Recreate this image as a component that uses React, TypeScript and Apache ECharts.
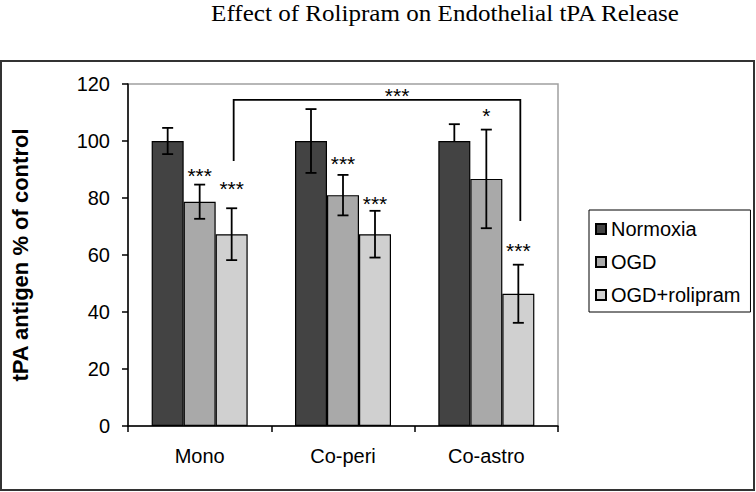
import React, { useEffect, useRef } from "react";
import * as echarts from "echarts";

const titleText = "Effect of Rolipram on Endothelial tPA Release";
const yAxisTitle = "tPA antigen % of control";
const categories = ["Mono", "Co-peri", "Co-astro"];
const seriesNames = ["Normoxia", "OGD", "OGD+rolipram"];
const normoxia = [100, 100, 100];
const ogd = [78.7, 81.0, 86.7];
const ogdRolipram = [67.3, 67.3, 46.4];
const normoxiaErrUp = [4.6, 11.2, 5.9];
const normoxiaErrDown = [4.6, 11.2, 0];
const ogdErr = [6.0, 7.1, 17.3];
const ogdRolipramErr = [9.1, 8.2, 10.2];
const normoxiaSig = ["", "", ""];
const ogdSig = ["***", "***", "*"];
const ogdRolipramSig = ["***", "***", "***"];
// significance marks' heights, in axis units
const normoxiaSigY = [0, 0, 0];
const ogdSigY = [89.2, 93.6, 110.5];
const ogdRolipramSigY = [84.6, 79.5, 62.9];
// bracket between Mono and Co-astro OGD+rolipram
const bracketLabel = "***";
const bracketLeftY = 93;
const bracketTopY = 114.4;
const bracketRightY = 71.9;
const bracketLabelY = 116.9;
const yTicks = { min: 0, max: 120, interval: 20 };

const colors = ["#434343", "#a9a9a9", "#d0d0d0"];
const barWidth = 32;
const sans = "'Liberation Sans', Arial, sans-serif";

export default function App() {
  const ref = useRef<HTMLDivElement>(null);
  useEffect(() => {
    if (!ref.current) return;
    document.body.style.margin = "0";
    const chart = echarts.init(ref.current, null, { renderer: "svg" });
    const values = [normoxia, ogd, ogdRolipram];
    const errUp = [normoxiaErrUp, ogdErr, ogdRolipramErr];
    const errDown = [normoxiaErrDown, ogdErr, ogdRolipramErr];
    const sigs = [normoxiaSig, ogdSig, ogdRolipramSig];
    const sigYs = [normoxiaSigY, ogdSigY, ogdRolipramSigY];

    const barSeries = seriesNames.map((name, si) => ({
      type: "bar",
      name,
      data: values[si],
      barWidth,
      barGap: "0%",
      itemStyle: { color: colors[si], borderColor: "#000", borderWidth: 1.2 },
      z: 2,
    }));

    const errorSeries = seriesNames.map((_, si) => ({
      type: "custom",
      silent: true,
      z: 10,
      data: categories.map((_, i) => [i, values[si][i], errUp[si][i], errDown[si][i], sigYs[si][i]]),
      renderItem: (params: any, api: any) => {
        const idx = api.value(0);
        const v = api.value(1);
        const up = api.value(2);
        const down = api.value(3);
        const off = (si - 1) * barWidth;
        const top = api.coord([idx, v + up]);
        const bot = api.coord([idx, v - down]);
        const x = top[0] + off;
        const cap = 5.5;
        const st = { stroke: "#000", lineWidth: 1.8 };
        const children: any[] = [
          { type: "line", shape: { x1: x, y1: top[1], x2: x, y2: bot[1] }, style: st },
          { type: "line", shape: { x1: x - cap, y1: top[1], x2: x + cap, y2: top[1] }, style: st },
        ];
        if (down > 0) {
          children.push({ type: "line", shape: { x1: x - cap, y1: bot[1], x2: x + cap, y2: bot[1] }, style: st });
        }
        const s = sigs[si][params.dataIndex];
        if (s) {
          const p = api.coord([idx, api.value(4)]);
          children.push({
            type: "text",
            x: p[0] + off,
            y: p[1] + 4,
            style: { text: s, fontSize: 21, fontFamily: sans, fill: "#000", align: "center", verticalAlign: "middle" },
          });
        }
        return { type: "group", children };
      },
    }));

    const bracketSeries = {
      type: "custom",
      silent: true,
      z: 10,
      data: [[0, bracketTopY]],
      renderItem: (_p: any, api: any) => {
        const off = barWidth + 2;
        const l = api.coord([0, bracketLeftY]);
        const t = api.coord([0, bracketTopY]);
        const r = api.coord([2, bracketRightY]);
        const lab = api.coord([0, bracketLabelY]);
        const xl = l[0] + off;
        const xr = r[0] + off;
        return {
          type: "group",
          children: [
            {
              type: "polyline",
              shape: { points: [[xl, l[1]], [xl, t[1]], [xr, t[1]], [xr, r[1]]] },
              style: { stroke: "#000", lineWidth: 1.8, fill: "none" },
            },
            {
              type: "text",
              x: xl + (xr - xl) * 0.57,
              y: lab[1] + 3,
              style: { text: bracketLabel, fontSize: 21, fontFamily: sans, fill: "#000", align: "center", verticalAlign: "middle" },
            },
          ],
        };
      },
    };

    chart.setOption({
      animation: false,
      backgroundColor: "#fff",
      graphic: [
        {
          type: "text",
          x: 445,
          y: 12.5,
          scaleX: 1.045,
          style: {
            text: titleText,
            fontSize: 24,
            fontFamily: "'Liberation Serif', 'Times New Roman', serif",
            fill: "#000",
            align: "center",
            verticalAlign: "middle",
          },
        },
        {
          type: "rect",
          shape: { x: 1, y: 61, width: 753, height: 429 },
          style: { fill: "none", stroke: "#333", lineWidth: 2 },
          z: -1,
        },
      ],
      legend: {
        data: seriesNames,
        orient: "vertical",
        left: 589,
        top: 210,
        padding: [9, 10, 7, 6],
        itemGap: 13,
        itemWidth: 10,
        itemHeight: 10,
        icon: "rect",
        borderColor: "#000",
        borderWidth: 1,
        textStyle: { fontSize: 20, fontFamily: sans, color: "#000" },
      },
      grid: {
        left: 128,
        top: 84,
        right: 198,
        bottom: 66,
        show: true,
        borderColor: "#a0a0a0",
        borderWidth: 1.5,
        backgroundColor: "#fff",
      },
      xAxis: {
        type: "category",
        data: categories,
        axisLine: { lineStyle: { color: "#000", width: 1.5 } },
        axisTick: { show: true, interval: 0, length: 6, lineStyle: { color: "#000", width: 1.5 } },
        axisLabel: { fontSize: 20, fontFamily: sans, color: "#000", margin: 20 },
      },
      yAxis: {
        type: "value",
        min: yTicks.min,
        max: yTicks.max,
        interval: yTicks.interval,
        name: yAxisTitle,
        nameLocation: "middle",
        nameRotate: 90,
        nameGap: 97,
        nameTextStyle: { fontSize: 22, fontWeight: "bold", fontFamily: sans, color: "#000" },
        axisLine: { show: true, lineStyle: { color: "#000", width: 1.5 } },
        axisTick: { show: true, length: 6, lineStyle: { color: "#000", width: 1.5 } },
        splitLine: { show: false },
        axisLabel: { fontSize: 20, fontFamily: sans, color: "#000", margin: 18 },
      },
      series: [...barSeries, ...errorSeries, bracketSeries],
    });
    return () => chart.dispose();
  }, []);
  return <div ref={ref} style={{ position: "fixed", left: 0, top: 0, width: 756, height: 492 }} />;
}
